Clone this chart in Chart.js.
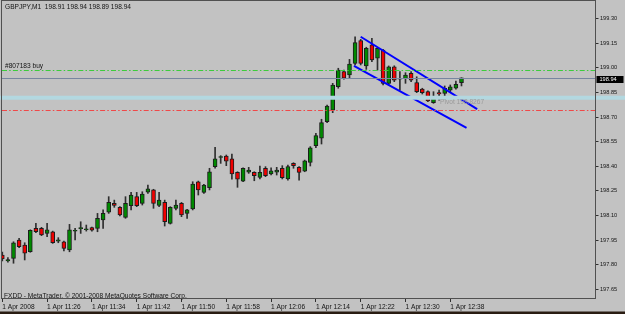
<!DOCTYPE html>
<html><head><meta charset="utf-8">
<script src="https://cdn.jsdelivr.net/npm/chart.js@4/dist/chart.umd.min.js"></script>
<style>html,body{margin:0;padding:0;background:#c2c2c2;overflow:hidden}canvas{display:block}</style>
</head><body>
<canvas id="c" width="625" height="314"></canvas>
<script>
const symbolTitle = "GBPJPY,M1  198.91 198.94 198.89 198.94";
const orderLabel = "#807183 buy";
const pivotLabel = "Pivot 198.8267";
const footerText = "FXDD - MetaTrader, \u00A9 2001-2008 MetaQuotes Software Corp.";

const times = ["11:18","11:19","11:20","11:21","11:22","11:23","11:24","11:25","11:26","11:27",
"11:28","11:29","11:30","11:31","11:32","11:33","11:34","11:35","11:36","11:37",
"11:38","11:39","11:40","11:41","11:42","11:43","11:44","11:45","11:46","11:47",
"11:48","11:49","11:50","11:51","11:52","11:53","11:54","11:55","11:56","11:57",
"11:58","11:59","12:00","12:01","12:02","12:03","12:04","12:05","12:06","12:07",
"12:08","12:09","12:10","12:11","12:12","12:13","12:14","12:15","12:16","12:17",
"12:18","12:19","12:20","12:21","12:22","12:23","12:24","12:25","12:26","12:27",
"12:28","12:29","12:30","12:31","12:32","12:33","12:34","12:35","12:36","12:37",
"12:38","12:39","12:40"];

const openP = [197.859,197.823,197.839,197.951,197.920,197.879,198.022,198.022,197.991,198.001,
197.943,197.940,197.890,198.004,198.020,198.013,198.026,198.022,198.073,198.120,
198.174,198.150,198.089,198.160,198.215,198.174,198.243,198.256,198.162,198.180,
198.052,198.144,198.174,198.113,198.140,198.306,198.241,198.270,198.398,198.454,
198.463,198.445,198.363,198.310,198.365,198.363,198.333,198.388,198.353,198.365,
198.388,198.323,198.418,198.394,198.371,198.424,198.526,198.571,198.672,198.743,
198.885,198.977,198.957,199.028,199.166,199.012,199.140,199.059,199.109,198.906,
199.007,198.934,198.934,198.967,198.910,198.871,198.855,198.788,198.849,198.845,
198.865,198.876,198.910];

const highP = [197.877,197.843,197.940,197.961,197.934,198.013,198.052,198.028,198.052,198.005,
197.965,197.944,198.046,198.022,198.062,198.042,198.030,198.113,198.134,198.215,
198.194,198.154,198.215,198.241,198.241,198.245,198.286,198.260,198.241,198.194,
198.154,198.194,198.180,198.138,198.306,198.310,198.290,198.388,198.516,198.465,
198.469,198.475,198.367,198.391,198.394,198.367,198.402,198.398,198.391,198.394,
198.404,198.408,198.422,198.398,198.438,198.520,198.601,198.687,198.774,198.906,
198.998,198.987,199.052,199.190,199.174,199.126,199.180,199.126,199.113,199.012,
199.013,198.977,198.971,198.977,198.946,198.876,198.861,198.855,198.865,198.890,
198.896,198.920,198.940];

const lowP = [197.823,197.815,197.809,197.904,197.829,197.876,197.995,197.977,197.971,197.930,
197.934,197.884,197.879,197.951,197.991,198.005,198.005,198.001,198.022,198.113,
198.150,198.097,198.083,198.134,198.154,198.164,198.235,198.144,198.154,198.036,
198.048,198.134,198.093,198.083,198.134,198.225,198.235,198.256,198.388,198.418,
198.404,198.321,198.272,198.306,198.357,198.312,198.323,198.337,198.347,198.347,
198.323,198.316,198.388,198.316,198.367,198.402,198.513,198.536,198.666,198.727,
198.876,198.931,198.937,199.018,199.018,198.991,199.038,198.987,198.896,198.896,
198.916,198.865,198.906,198.916,198.849,198.841,198.794,198.784,198.804,198.809,
198.855,198.870,198.890];

const closeP = [197.835,197.831,197.934,197.910,197.870,198.010,198.001,197.981,198.012,197.934,
197.952,197.900,198.012,198.006,198.022,198.015,198.010,198.083,198.113,198.180,
198.162,198.103,198.174,198.225,198.160,198.231,198.262,198.174,198.194,198.062,
198.150,198.164,198.103,198.134,198.292,198.256,198.286,198.367,198.445,198.456,
198.432,198.353,198.321,198.388,198.377,198.343,198.363,198.343,198.373,198.377,
198.331,198.398,198.404,198.363,198.434,198.513,198.587,198.666,198.768,198.896,
198.987,198.937,199.024,199.154,199.028,199.120,199.048,199.120,198.906,199.007,
198.926,198.931,198.957,198.926,198.855,198.849,198.798,198.824,198.841,198.876,
198.885,198.900,198.940];

const yTicks = [199.30,199.15,199.00,198.85,198.70,198.55,198.40,198.25,198.10,197.95,197.80,197.65];
const xTickTimes = ["11:18","11:26","11:34","11:42","11:50","11:58","12:06","12:14","12:22","12:30","12:38"];
const xTickLabels = ["1 Apr 2008","1 Apr 11:26","1 Apr 11:34","1 Apr 11:42","1 Apr 11:50","1 Apr 11:58","1 Apr 12:06","1 Apr 12:14","1 Apr 12:22","1 Apr 12:30","1 Apr 12:38"];

const buyLevel = 198.985;
const stopLevel = 198.745;
const pivotLevel = 198.8267;
const lastPrice = 198.94;
const lastPriceText = "198.94";

const channelUpperIdx = [64.0, 84.8];
const channelUpperPrice = [199.190, 198.749];
const channelLowerIdx = [62.8, 82.9];
const channelLowerPrice = [199.012, 198.635];
const pivotLabelIdx = 78;

const yMin = 197.591, yMax = 199.408;
const xMin = -0.054, xMax = 106.02;

const FONT = "'Liberation Sans', Arial, sans-serif";
const bull = '#008a00', bear = '#f00000';

const wickData = times.map((t, i) => ({x: i, y: [lowP[i], highP[i]]}));
const bodyData = times.map((t, i) => ({x: i, y: [openP[i], closeP[i]]}));
const bodyColors = times.map((t, i) => closeP[i] >= openP[i] ? bull : bear);

const overlay = {
  id: 'overlay',
  afterDraw(chart) {
    const ctx = chart.ctx, ca = chart.chartArea, xs = chart.scales.x, ys = chart.scales.y;
    const W = chart.width;
    ctx.save();
    const py = ys.getPixelForValue(pivotLevel);
    ctx.fillStyle = '#b3d8e0';
    ctx.fillRect(0, py - 0.6, W, 4);
    ctx.lineWidth = 1;
    ctx.setLineDash([5, 2.2, 1.5, 2.2]);
    const gy = Math.round(ys.getPixelForValue(buyLevel)) + 0.5;
    ctx.strokeStyle = '#3ccc3c';
    ctx.beginPath(); ctx.moveTo(ca.left, gy); ctx.lineTo(ca.right, gy); ctx.stroke();
    const ry = Math.round(ys.getPixelForValue(stopLevel)) + 0.5;
    ctx.strokeStyle = '#f04848';
    ctx.beginPath(); ctx.moveTo(ca.left, ry); ctx.lineTo(ca.right, ry); ctx.stroke();
    ctx.setLineDash([]);
    const ly = Math.round(ys.getPixelForValue(lastPrice)) + 0.5;
    ctx.strokeStyle = '#7886a0';
    ctx.beginPath(); ctx.moveTo(ca.left, ly); ctx.lineTo(ca.right, ly); ctx.stroke();
    ctx.fillStyle = '#141414';
    ctx.font = "6.6px " + FONT;
    ctx.textAlign = 'left';
    ctx.textBaseline = 'middle';
    ctx.fillText(symbolTitle, 5, 7);
    ctx.fillText(orderLabel, 5, gy - 4.5);
    ctx.fillText(footerText, 4, 296.5);
    ctx.fillStyle = '#9a9a9a';
    ctx.fillText(pivotLabel, xs.getPixelForValue(pivotLabelIdx) + 1, py + 5.5);
    ctx.fillStyle = '#000';
    ctx.fillRect(596.5, ly - 2.5, 27, 7);
    ctx.fillStyle = '#fff';
    ctx.font = "5.6px " + FONT;
    ctx.fillText(lastPriceText, 599.5, ly + 1);
    ctx.strokeStyle = '#505050';
    ctx.lineWidth = 1;
    ctx.strokeRect(1.5, 0.5, 594, 298);
    ctx.fillStyle = '#2a1c12';
    ctx.fillRect(0, 311.5, W, 3);
    ctx.restore();
  }
};

new Chart(document.getElementById('c'), {
  type: 'bar',
  data: {
    datasets: [
      {type: 'line', data: channelUpperIdx.map((v, i) => ({x: v, y: channelUpperPrice[i]})),
       borderColor: '#0000ff', borderWidth: 2, pointRadius: 0, order: 0},
      {type: 'line', data: channelLowerIdx.map((v, i) => ({x: v, y: channelLowerPrice[i]})),
       borderColor: '#0000ff', borderWidth: 2, pointRadius: 0, order: 0},
      {data: bodyData, backgroundColor: bodyColors, borderColor: '#1c1c1c', borderWidth: 1,
       borderSkipped: false, barThickness: 4, grouped: false, minBarLength: 1, order: 1},
      {data: wickData, backgroundColor: '#2e2e2e', borderWidth: 0, barThickness: 1,
       grouped: false, order: 2}
    ]
  },
  options: {
    responsive: false, animation: false, devicePixelRatio: 1, events: [],
    layout: {padding: {left: 2, top: 1, right: 0, bottom: 0}},
    plugins: {legend: {display: false}, tooltip: {enabled: false}},
    scales: {
      x: {
        type: 'linear', min: xMin, max: xMax, position: 'bottom', offset: false,
        afterBuildTicks: s => { s.ticks = xTickTimes.map(t => ({value: times.indexOf(t)})); },
        afterFit: s => { s.height = 15; s.paddingLeft = 0; s.paddingRight = 0; },
        ticks: {autoSkip: false, maxRotation: 0, minRotation: 0, align: 'start', padding: 1,
          color: '#141414', font: {family: FONT, size: 6.6},
          callback: (v, i) => xTickLabels[i]},
        grid: {offset: false, drawOnChartArea: false, drawTicks: true, tickLength: 3, tickColor: '#303030'},
        border: {display: false}
      },
      y: {
        type: 'linear', min: yMin, max: yMax, position: 'right', offset: false,
        afterBuildTicks: s => { s.ticks = yTicks.map(v => ({value: v})); },
        afterFit: s => { s.width = 29; s.paddingTop = 0; s.paddingBottom = 0; },
        ticks: {padding: 1.5, color: '#141414', font: {family: FONT, size: 5.6},
          callback: v => v.toFixed(2)},
        grid: {drawOnChartArea: false, drawTicks: true, tickLength: 2.5, tickColor: '#303030'},
        border: {display: false}
      }
    }
  },
  plugins: [overlay]
});
</script>
</body></html>
